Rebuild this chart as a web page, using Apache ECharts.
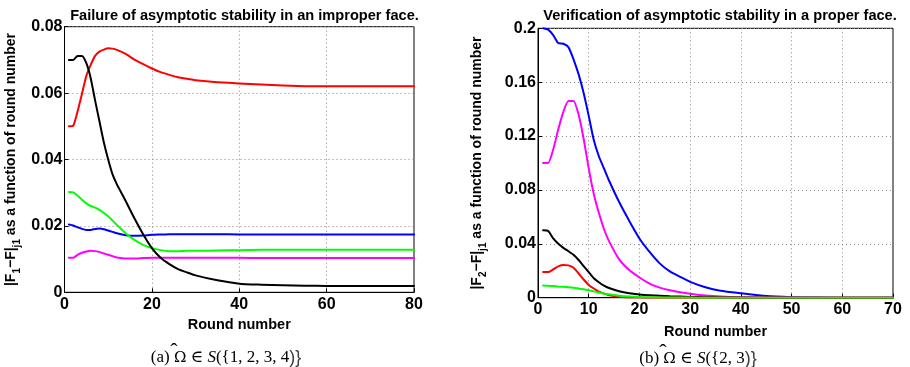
<!DOCTYPE html>
<html><head><meta charset="utf-8">
<script src="https://cdn.jsdelivr.net/npm/echarts@6/dist/echarts.min.js"></script>
<style>html,body{margin:0;padding:0;background:#fff}#c{width:910px;height:367px}</style>
</head><body><div id="c"></div>
<script>
// ---- Panel (a) ----
const roundsA = [1,2,3,4,5,6,7,8,9,10,11,12,14,16,18,20,22,24,26,28,30,35,40,45,50,55,60,70,80];
const redA     = [0.0500,0.0502,0.0545,0.0598,0.0652,0.0685,0.0712,0.0725,0.0731,0.0735,0.0734,0.0730,0.0718,0.0701,0.0687,0.0674,0.0663,0.0655,0.0648,0.0643,0.0639,0.0633,0.0629,0.0626,0.0623,0.0621,0.0621,0.0621,0.0621];
const blackA   = [0.0700,0.0700,0.0712,0.0712,0.0690,0.0645,0.0578,0.0515,0.0452,0.0400,0.0355,0.0325,0.0275,0.0223,0.0175,0.0133,0.0104,0.0085,0.0070,0.0060,0.0051,0.0036,0.0026,0.0023,0.0021,0.0020,0.0019,0.0019,0.0019];
const greenA   = [0.0302,0.0301,0.0291,0.0279,0.0268,0.0260,0.0255,0.0248,0.0239,0.0229,0.0216,0.0203,0.0178,0.0158,0.0143,0.0133,0.0127,0.0124,0.0124,0.0125,0.0125,0.0126,0.0127,0.0128,0.0128,0.0128,0.0128,0.0128,0.0128];
const blueA    = [0.0204,0.0201,0.0196,0.0191,0.0188,0.0188,0.0191,0.0192,0.0190,0.0186,0.0182,0.0178,0.0172,0.0170,0.0171,0.0173,0.0174,0.0175,0.0175,0.0175,0.0175,0.0175,0.0174,0.0174,0.0174,0.0174,0.0174,0.0174,0.0174];
const magentaA = [0.0104,0.0104,0.0113,0.0119,0.0123,0.0125,0.0124,0.0121,0.0117,0.0113,0.0109,0.0105,0.0102,0.0102,0.0103,0.0104,0.0104,0.0104,0.0104,0.0104,0.0104,0.0104,0.0104,0.0103,0.0103,0.0103,0.0103,0.0103,0.0103];
const yTicksA = [0, 0.02, 0.04, 0.06, 0.08];
const xTicksA = [0, 20, 40, 60, 80];

// ---- Panel (b) ----
const roundsB = [1,2,3,4,5,6,7,8,9,10,11,12,13,14,16,18,20,22,24,26,28,30,33,36,40,45,50,55,60,70];
const blueB    = [0.2000,0.1990,0.1950,0.1890,0.1885,0.1860,0.1770,0.1660,0.1520,0.1350,0.1170,0.1050,0.0960,0.0870,0.0710,0.0570,0.0440,0.0340,0.0255,0.0195,0.0155,0.0118,0.0078,0.0052,0.0033,0.0012,0.0004,0.0001,0,0];
const magentaB = [0.1000,0.1000,0.1100,0.1250,0.1380,0.1460,0.1460,0.1360,0.1180,0.0960,0.0770,0.0630,0.0510,0.0420,0.0285,0.0205,0.0150,0.0105,0.0075,0.0055,0.0040,0.0030,0.0017,0.0009,0.0004,0.0002,0.0001,0,0,0];
const blackB   = [0.0500,0.0495,0.0440,0.0400,0.0370,0.0345,0.0318,0.0280,0.0235,0.0190,0.0145,0.0115,0.0090,0.0072,0.0048,0.0033,0.0024,0.0018,0.0014,0.0010,0.0008,0.0006,0.0004,0.0002,0.0001,0,0,0,0,0];
const redB     = [0.0190,0.0190,0.0210,0.0232,0.0242,0.0240,0.0222,0.0180,0.0135,0.0095,0.0068,0.0045,0.0030,0.0018,0.0007,0.0002,0.0001,0,0,0,0,0,0,0,0,0,0,0,0,0];
const greenB   = [0.0090,0.0088,0.0086,0.0083,0.0081,0.0078,0.0074,0.0068,0.0062,0.0055,0.0047,0.0038,0.0031,0.0025,0.0015,0.0009,0.0005,0.0003,0.0002,0.0001,0.0001,0.0001,0,0,0,0,0,0,0,0];
const yTicksB = [0, 0.04, 0.08, 0.12, 0.16, 0.2];
const xTicksB = [0, 10, 20, 30, 40, 50, 60, 70];

const SANS = 'Liberation Sans, Arial, sans-serif';
const SERIF = 'Liberation Serif, DejaVu Serif, serif';

function pairs(xs, ys) { return xs.map((x, i) => [x, ys[i]]); }
function line(xi, xs, ys, color) {
  return { type: 'line', xAxisIndex: xi, yAxisIndex: xi, data: pairs(xs, ys),
    showSymbol: false, smooth: 0.2,
    lineStyle: { color: color, width: 2, join: 'round', cap: 'round' }, itemStyle: { color: color },
    animation: false, z: 3 };
}
const subRich = {
  b: { fontFamily: SANS, fontSize: 14, fontWeight: 'bold', color: '#000', lineHeight: 16, verticalAlign: 'top' },
  s: { fontFamily: SANS, fontSize: 10, fontWeight: 'bold', color: '#000', lineHeight: 10, padding: [8, 0, 0, 0], verticalAlign: 'top' }
};
function xAxis(gi, ticks) {
  return { type: 'value', gridIndex: gi, min: ticks[0], max: ticks[ticks.length - 1], interval: ticks[1] - ticks[0],
    name: 'Round number', nameLocation: 'middle', nameGap: gi === 0 ? 19 : 27,
    nameTextStyle: { fontFamily: SANS, fontSize: 14.5, fontWeight: 'bold', color: '#000' },
    axisLine: { lineStyle: { color: '#000', width: 1 } },
    axisTick: { inside: true, length: 4, lineStyle: { color: '#000' } },
    axisLabel: { fontFamily: SANS, fontSize: 16, fontWeight: 'bold', color: '#000', margin: 4 },
    splitLine: { show: true, lineStyle: { color: '#888', type: [1, 3], width: 1 } } };
}
function yAxis(gi, ticks, nameStr) {
  return { type: 'value', gridIndex: gi, min: ticks[0], max: ticks[ticks.length - 1], interval: ticks[1] - ticks[0],
    name: nameStr, nameLocation: 'middle', nameGap: gi === 0 ? 44 : 52,
    nameTextStyle: { rich: subRich },
    axisLine: { lineStyle: { color: '#000', width: 1 } },
    axisTick: { inside: true, length: 4, lineStyle: { color: '#000' } },
    axisLabel: { fontFamily: SANS, fontSize: 16, fontWeight: 'bold', color: '#000', margin: 2,
      formatter: v => String(+v.toFixed(4)) },
    splitLine: { show: true, lineStyle: { color: '#888', type: [1, 3], width: 1 } } };
}
const capRich = {
  n: { fontFamily: SERIF, fontSize: 17, fontWeight: 'normal', color: '#000' },
  o: { fontFamily: 'DejaVu Serif, serif', fontSize: 15, fontWeight: 'normal', color: '#000' },
  i: { fontFamily: SERIF, fontSize: 17, fontWeight: 'normal', fontStyle: 'italic', color: '#000' }
};

// measure caption pieces to put a hat over Omega
const mctx = document.createElement('canvas').getContext('2d');
function tw(font, s) { mctx.font = font; return mctx.measureText(s).width; }
function hatX(center, tail) {
  const fN = '17px "Liberation Serif"', fO = '15px "DejaVu Serif"', fI = 'italic 17px "Liberation Serif"';
  const wPre = tw(fN, '(a) '), wO = tw(fO, 'Ω');
  const total = wPre + wO + tw(fN, ' ∈ ') + tw(fI, 'S') + tw(fN, tail);
  return center - total / 2 + wPre + wO / 2;
}
const capA = { cx: 221, top: 344 }, capB = { cx: 693, top: 345 };
const hatAx = hatX(capA.cx, '({1, 2, 3, 4})') + 1;
const hatBx = hatX(capB.cx, '({2, 3})') + 1;
const hatStyle = { text: '\u02C6', font: '22px "Liberation Serif"', fill: '#000', align: 'center', verticalAlign: 'top' };

const chart = echarts.init(document.getElementById('c'), null, { renderer: 'canvas' });
chart.setOption({
  backgroundColor: '#fff',
  animation: false,
  title: [
    { text: 'Failure of asymptotic stability in an improper face.', left: 239.5, top: 3, textAlign: 'center',
      textStyle: { fontFamily: SANS, fontSize: 14.6, fontWeight: 'bold', color: '#000' } },
    { text: 'Verification of asymptotic stability in a proper face.', left: 715, top: 3, textAlign: 'center',
      textStyle: { fontFamily: SANS, fontSize: 14.6, fontWeight: 'bold', color: '#000' } },
    { text: '{n|(a) }{o|Ω}{n| ∈ }{i|S}{n|({1, 2, 3, 4})}', left: capA.cx, top: capA.top, textAlign: 'center',
      textStyle: { fontWeight: 'normal', rich: capRich } },
    { text: '{n|(b) }{o|Ω}{n| ∈ }{i|S}{n|({2, 3})}', left: capB.cx, top: capB.top, textAlign: 'center',
      textStyle: { fontWeight: 'normal', rich: capRich } }
  ],
  graphic: [
    { type: 'text', x: hatAx, y: capA.top - 3, style: Object.assign({}, hatStyle) },
    { type: 'text', x: hatBx, y: capB.top - 3, style: Object.assign({}, hatStyle) }
  ],
  grid: [
    { left: 64.5, top: 26.7, width: 349.5, height: 265.6, show: true, borderColor: '#000', borderWidth: 1, containLabel: false },
    { left: 538, top: 28.3, width: 355, height: 269.4, show: true, borderColor: '#000', borderWidth: 1, containLabel: false }
  ],
  xAxis: [xAxis(0, xTicksA), xAxis(1, xTicksB)],
  yAxis: [
    yAxis(0, yTicksA, '{b||F}{s|1}{b|−F|}{s|j1}{b| as a function of round number}'),
    yAxis(1, yTicksB, '{b||F}{s|2}{b|−F|}{s|j1}{b| as a function of round number}')
  ],
  series: [
    line(0, roundsA, blueA, '#0000ff'),
    line(0, roundsA, greenA, '#00ff00'),
    line(0, roundsA, magentaA, '#ff00ff'),
    line(0, roundsA, redA, '#ff0000'),
    line(0, roundsA, blackA, '#000000'),
    line(1, roundsB, blueB, '#0000ff'),
    line(1, roundsB, magentaB, '#ff00ff'),
    line(1, roundsB, blackB, '#000000'),
    line(1, roundsB, redB, '#ff0000'),
    line(1, roundsB, greenB, '#00ff00')
  ]
});
</script>
</body></html>
